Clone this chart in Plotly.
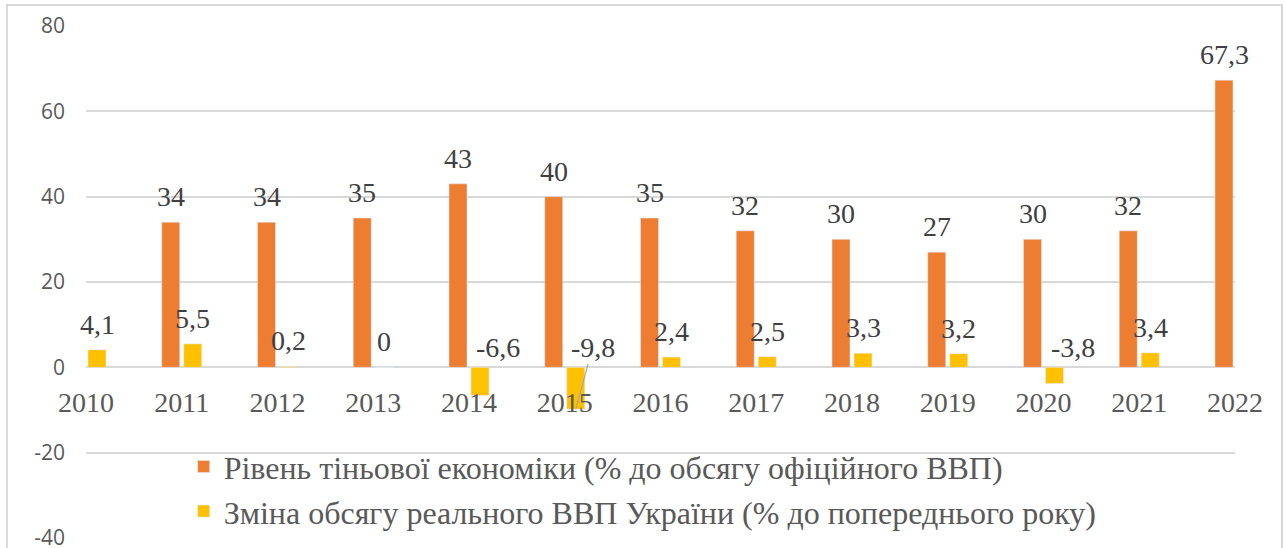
import plotly.graph_objects as go

years = ["2010", "2011", "2012", "2013", "2014", "2015", "2016",
         "2017", "2018", "2019", "2020", "2021", "2022"]
shadow = [None, 34, 34, 35, 43, 40, 35, 32, 30, 27, 30, 32, 67.3]
gdp = [4.1, 5.5, 0.2, 0, -6.6, -9.8, 2.4, 2.5, 3.3, 3.2, -3.8, 3.4, None]
name_shadow = "Рівень тіньової економіки (% до обсягу офіційного ВВП)"
name_gdp = "Зміна обсягу реального ВВП України (% до попереднього року)"
y_ticks = [-40, -20, 0, 20, 40, 60, 80]
y_tick_text = ["-40", "-20", "0", "20", "40", "60", "80"]

ORANGE = "#ED7D31"
YELLOW = "#FFC000"
SERIF = "Liberation Serif"

BW = 0.188
fig = go.Figure()
fig.add_trace(go.Bar(x=years, y=shadow, name=name_shadow, marker_color=ORANGE,
                     width=BW, offset=-0.209, legendgroup="a"))
fig.add_trace(go.Bar(x=years, y=gdp, name=name_gdp, marker_color=YELLOW,
                     width=BW, offset=0.021, legendgroup="b"))


def fmt(v):
    return ("%g" % v).replace(".", ",")


annots = []
for i, v in enumerate(shadow):
    if v is None:
        continue
    annots.append(dict(x=i, y=v, text=fmt(v), showarrow=False, yanchor="bottom",
                       xshift=-11, yshift=8))
for i, (yr, v) in enumerate(zip(years, gdp)):
    if v is None:
        continue
    if v >= 0:
        annots.append(dict(x=i, y=v, text=fmt(v), showarrow=False, yanchor="bottom",
                           xshift=11, yshift=8))
    elif yr == "2015":
        annots.append(dict(x=i, y=v, text=fmt(v), showarrow=True, xshift=11,
                           ax=17, ay=-62, arrowhead=0, arrowwidth=1.2,
                           arrowcolor="#a6a6a6", standoff=0, startstandoff=0))
    else:
        annots.append(dict(x=i, y=0, text=fmt(v), showarrow=False, yanchor="bottom",
                           xshift=29, yshift=2))
for a in annots:
    a["font"] = dict(family=SERIF, size=28, color="#404040")
    a["xref"] = "x"
    a["yref"] = "y"

fig.update_layout(
    width=1285, height=548,
    margin=dict(l=86, r=50, t=26, b=10, autoexpand=False),
    paper_bgcolor="white", plot_bgcolor="white",
    barmode="overlay",
    showlegend=True,
    legend=dict(x=0.085, y=0.193, xanchor="left", yanchor="top",
                font=dict(family=SERIF, size=32, color="#595959"),
                tracegroupgap=6, bgcolor="rgba(0,0,0,0)", traceorder="normal"),
    annotations=annots,
    shapes=[dict(type="rect", xref="paper", yref="paper",
                 x0=-0.0688, x1=1.0409, y0=-0.03, y1=1.041,
                 line=dict(color="#d9d9d9", width=2), layer="below")],
    xaxis=dict(type="category", range=[0, 12], showgrid=False, showline=False,
               zeroline=False, ticks="", anchor="free", position=1/3,
               tickfont=dict(family=SERIF, size=28, color="#595959"),
               ticklabelstandoff=16, automargin=False),
    yaxis=dict(range=[-40, 80], tickvals=y_ticks, ticktext=y_tick_text,
               showgrid=True, automargin=False, ticklabeloverflow="allow",
               gridcolor="#d9d9d9", gridwidth=1.5, zeroline=True,
               zerolinecolor="#d9d9d9", zerolinewidth=1.5, showline=False,
               ticks="", tickfont=dict(family="Open Sans", size=21, color="#595959"),
               ticklabelstandoff=20),
)

fig.write_html("out.html", config={"displayModeBar": False},
               post_script="document.body.style.margin='0';document.body.style.overflow='hidden';")
